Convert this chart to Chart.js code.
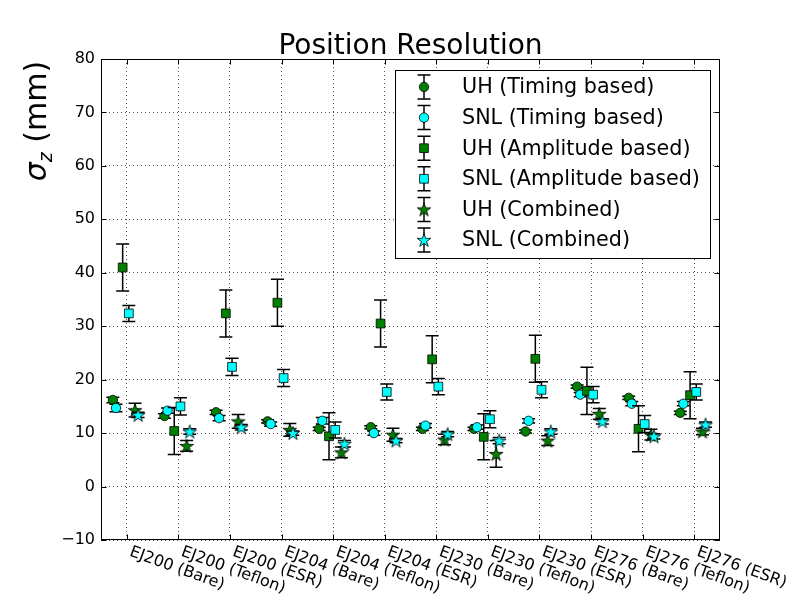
<!DOCTYPE html>
<html>
<head>
<meta charset="utf-8">
<script src="https://cdn.jsdelivr.net/npm/chart.js@4.4.0/dist/chart.umd.min.js"></script>
<style>
html, body { margin: 0; padding: 0; background: #fff; }
#wrap { width: 800px; height: 600px; }
</style>
</head>
<body>
<div id="wrap"><canvas id="resChart" width="800" height="600"></canvas></div>
<script>
// categories (x axis)
const categories = ['EJ200 (Bare)', 'EJ200 (Teflon)', 'EJ200 (ESR)', 'EJ204 (Bare)',
	'EJ204 (Teflon)', 'EJ204 (ESR)', 'EJ230 (Bare)', 'EJ230 (Teflon)', 'EJ230 (ESR)',
	'EJ276 (Bare)', 'EJ276 (Teflon)', 'EJ276 (ESR)'];
const yTicks = [-10, 0, 10, 20, 30, 40, 50, 60, 70, 80];

// values (mm) and their error bars
const uhTiming = [16.2, 13.2, 13.9, 12.2, 10.8, 11.1, 10.8, 10.8, 10.3, 18.7, 16.6, 13.8];
const uhTimingErr = [0.5, 0.4, 0.4, 0.3, 0.3, 0.3, 0.3, 0.3, 0.3, 0.3, 0.3, 0.3];
const snlTiming = [14.7, 14.2, 12.8, 11.7, 12.3, 10.0, 11.4, 11.1, 12.3, 17.2, 15.5, 15.5];
const snlTimingErr = [0.7, 0.5, 0.5, 0.4, 0.6, 0.4, 0.4, 0.4, 0.4, 0.4, 0.4, 0.4];
const uhAmp = [41.0, 10.4, 32.4, 34.4, 9.4, 30.5, 23.8, 9.3, 23.9, 17.9, 10.8, 17.1];
const uhAmpErr = [4.4, 4.4, 4.4, 4.4, 4.4, 4.4, 4.4, 4.3, 4.4, 4.4, 4.3, 4.4];
const snlAmp = [32.4, 15.0, 22.4, 20.3, 10.6, 17.7, 18.7, 12.6, 18.1, 17.2, 11.7, 17.7];
const snlAmpErr = [1.5, 1.6, 1.6, 1.6, 1.5, 1.5, 1.5, 1.6, 1.5, 1.5, 1.6, 1.5];
const uhComb = [14.3, 7.6, 12.2, 10.6, 6.4, 9.7, 8.8, 6.1, 8.6, 13.6, 9.7, 10.3];
const uhCombErr = [1.3, 1.0, 1.3, 1.2, 1.0, 1.2, 1.0, 2.5, 0.9, 1.0, 1.0, 0.6];
const snlComb = [13.4, 10.3, 11.1, 10.0, 8.0, 8.6, 9.8, 8.6, 10.3, 12.2, 9.4, 11.6];
const snlCombErr = [0.5, 0.5, 0.5, 0.4, 0.6, 0.4, 0.5, 0.6, 0.5, 0.5, 0.5, 0.5];

const seriesNames = ['UH (Timing based)', 'SNL (Timing based)', 'UH (Amplitude based)',
	'SNL (Amplitude based)', 'UH (Combined)', 'SNL (Combined)'];
const xOffsets = [-0.27, -0.21, -0.08, 0.04, 0.16, 0.22];

const GREEN = '#008000';
const CYAN = '#00ffff';
const FONT = '"DejaVu Sans", sans-serif';

// filled 5-point star, like matplotlib '*'
function makeStar(color) {
	const c = document.createElement('canvas');
	c.width = 16; c.height = 16;
	const g = c.getContext('2d');
	const ro = 7.2, ri = ro * 0.382;
	g.beginPath();
	for (let k = 0; k < 10; k++) {
		const r = k % 2 === 0 ? ro : ri;
		const a = -Math.PI / 2 + k * Math.PI / 5;
		const px = 8 + r * Math.cos(a), py = 8.6 + r * Math.sin(a);
		if (k === 0) g.moveTo(px, py); else g.lineTo(px, py);
	}
	g.closePath();
	g.fillStyle = color;
	g.fill();
	g.lineWidth = 0.8;
	g.strokeStyle = '#000';
	g.stroke();
	return c;
}

const styles = [
	{ pointStyle: 'circle', radius: 4.7, color: GREEN },
	{ pointStyle: 'circle', radius: 4.7, color: CYAN },
	{ pointStyle: 'rect', radius: 6.2, color: GREEN },
	{ pointStyle: 'rect', radius: 6.2, color: CYAN },
	{ pointStyle: makeStar(GREEN), radius: 8, color: GREEN },
	{ pointStyle: makeStar(CYAN), radius: 8, color: CYAN }
];

const values = [uhTiming, snlTiming, uhAmp, snlAmp, uhComb, snlComb];
const errors = [uhTimingErr, snlTimingErr, uhAmpErr, snlAmpErr, uhCombErr, snlCombErr];

const datasets = seriesNames.map(function(name, s) {
	return {
		label: name,
		data: values[s].map(function(v, i) { return { x: i + 1 + xOffsets[s], y: v }; }),
		errors: errors[s],
		pointStyle: styles[s].pointStyle,
		pointRadius: styles[s].radius,
		backgroundColor: styles[s].color,
		borderColor: '#000',
		borderWidth: 0.8,
		showLine: false,
		order: 6 - s // first series drawn first, like matplotlib
	};
});

function drawErrBar(ctx, x, yTop, yBot) {
	ctx.beginPath();
	ctx.moveTo(x, yTop); ctx.lineTo(x, yBot);
	ctx.moveTo(x - 6.5, yTop); ctx.lineTo(x + 6.5, yTop);
	ctx.moveTo(x - 6.5, yBot); ctx.lineTo(x + 6.5, yBot);
	ctx.stroke();
}

const decor = {
	id: 'decor',
	beforeDatasetDraw(chart, args) {
		const ctx = chart.ctx;
		const yScale = chart.scales.y;
		const ds = chart.data.datasets[args.index];
		ctx.save();
		ctx.strokeStyle = '#000';
		ctx.lineWidth = 1.5;
		args.meta.data.forEach(function(pt, i) {
			const v = ds.data[i].y, e = ds.errors[i];
			drawErrBar(ctx, pt.x, yScale.getPixelForValue(v + e), yScale.getPixelForValue(v - e));
		});
		ctx.restore();
	},
	afterDraw(chart) {
		const ctx = chart.ctx;
		const a = chart.chartArea;
		const xs = chart.scales.x, ys = chart.scales.y;
		ctx.save();

		// frame + inward ticks
		ctx.strokeStyle = '#000';
		ctx.lineWidth = 1;
		ctx.strokeRect(a.left + 0.5, a.top + 0.5, a.right - a.left - 1, a.bottom - a.top - 1);
		ctx.beginPath();
		categories.forEach(function(c, i) {
			const x = Math.round(xs.getPixelForValue(i + 1)) + 0.5;
			ctx.moveTo(x, a.bottom); ctx.lineTo(x, a.bottom - 5.5);
			ctx.moveTo(x, a.top); ctx.lineTo(x, a.top + 5.5);
		});
		yTicks.forEach(function(v) {
			const y = Math.round(ys.getPixelForValue(v)) + 0.5;
			ctx.moveTo(a.left, y); ctx.lineTo(a.left + 5.5, y);
			ctx.moveTo(a.right, y); ctx.lineTo(a.right - 5.5, y);
		});
		ctx.stroke();

		// rotated category labels
		ctx.fillStyle = '#000';
		ctx.font = '16px ' + FONT;
		ctx.textAlign = 'left';
		ctx.textBaseline = 'top';
		categories.forEach(function(c, i) {
			const x = xs.getPixelForValue(i + 1);
			ctx.save();
			ctx.translate(x + 6, a.bottom + 4);
			ctx.rotate(20 * Math.PI / 180);
			ctx.fillText(c, 0, 0);
			ctx.restore();
		});

		// title
		ctx.font = '28px ' + FONT;
		ctx.textAlign = 'center';
		ctx.textBaseline = 'alphabetic';
		ctx.fillText('Position Resolution', (a.left + a.right) / 2, 54);

		// y axis label: sigma_z (mm)
		ctx.save();
		ctx.translate(46, 121);
		ctx.rotate(-Math.PI / 2);
		ctx.textAlign = 'left';
		const fSig = 'italic 30px ' + FONT, fSub = 'italic 19px ' + FONT, fMain = '30px ' + FONT;
		ctx.font = fSig; const wSig = ctx.measureText('\u03c3').width;
		ctx.font = fSub; const wSub = ctx.measureText('z').width;
		ctx.font = fMain; const wMain = ctx.measureText(' (mm)').width;
		let tx = -(wSig + wSub + wMain) / 2;
		ctx.font = fSig; ctx.fillText('\u03c3', tx, 0); tx += wSig;
		ctx.font = fSub; ctx.fillText('z', tx, 6); tx += wSub;
		ctx.font = fMain; ctx.fillText(' (mm)', tx, 0);
		ctx.restore();

		// legend
		const lx = 395.5, ly = 70.5, lw = 315, lh = 188;
		ctx.fillStyle = '#fff';
		ctx.fillRect(lx, ly, lw, lh);
		ctx.strokeStyle = '#000';
		ctx.lineWidth = 1;
		ctx.strokeRect(lx, ly, lw, lh);
		ctx.font = '20.7px ' + FONT;
		ctx.textAlign = 'left';
		ctx.textBaseline = 'middle';
		seriesNames.forEach(function(name, s) {
			const ry = 87 + s * 30.6;
			ctx.strokeStyle = '#000';
			ctx.lineWidth = 1.5;
			drawErrBar(ctx, 424, ry - 12, ry + 12);
			ctx.fillStyle = styles[s].color;
			ctx.lineWidth = 0.8;
			Chart.helpers.drawPoint(ctx, {
				pointStyle: styles[s].pointStyle, radius: styles[s].radius,
				rotation: 0, borderWidth: 0.8
			}, 424, ry);
			ctx.fillStyle = '#000';
			ctx.fillText(name, 462, ry + 1);
		});
		ctx.restore();
	}
};

const gridOpts = { color: 'rgba(0,0,0,0.85)', lineWidth: 0.8, drawTicks: false };

new Chart(document.getElementById('resChart').getContext('2d'), {
	type: 'scatter',
	data: { datasets: datasets },
	options: {
		responsive: false,
		animation: false,
		layout: { padding: { left: 0, top: 59, right: 80, bottom: 0 } },
		plugins: {
			legend: { display: false },
			tooltip: { enabled: false },
			title: { display: false }
		},
		scales: {
			x: {
				type: 'linear',
				min: 0.5,
				max: 12.5,
				afterBuildTicks: function(s) { s.ticks = categories.map(function(c, i) { return { value: i + 1 }; }); },
				afterFit: function(s) { s.height = 60; },
				ticks: { display: false },
				grid: gridOpts,
				border: { display: false, dash: [1, 3] }
			},
			y: {
				min: -10,
				max: 80,
				afterBuildTicks: function(s) { s.ticks = yTicks.map(function(v) { return { value: v }; }); },
				afterFit: function(s) { s.width = 101; },
				ticks: {
					color: '#000',
					padding: 6,
					font: { family: 'DejaVu Sans', size: 16 },
					callback: function(v) { return String(v).replace('-', '\u2212'); }
				},
				grid: gridOpts,
				border: { display: false, dash: [1, 3] }
			}
		}
	},
	plugins: [decor]
});
</script>
</body>
</html>
